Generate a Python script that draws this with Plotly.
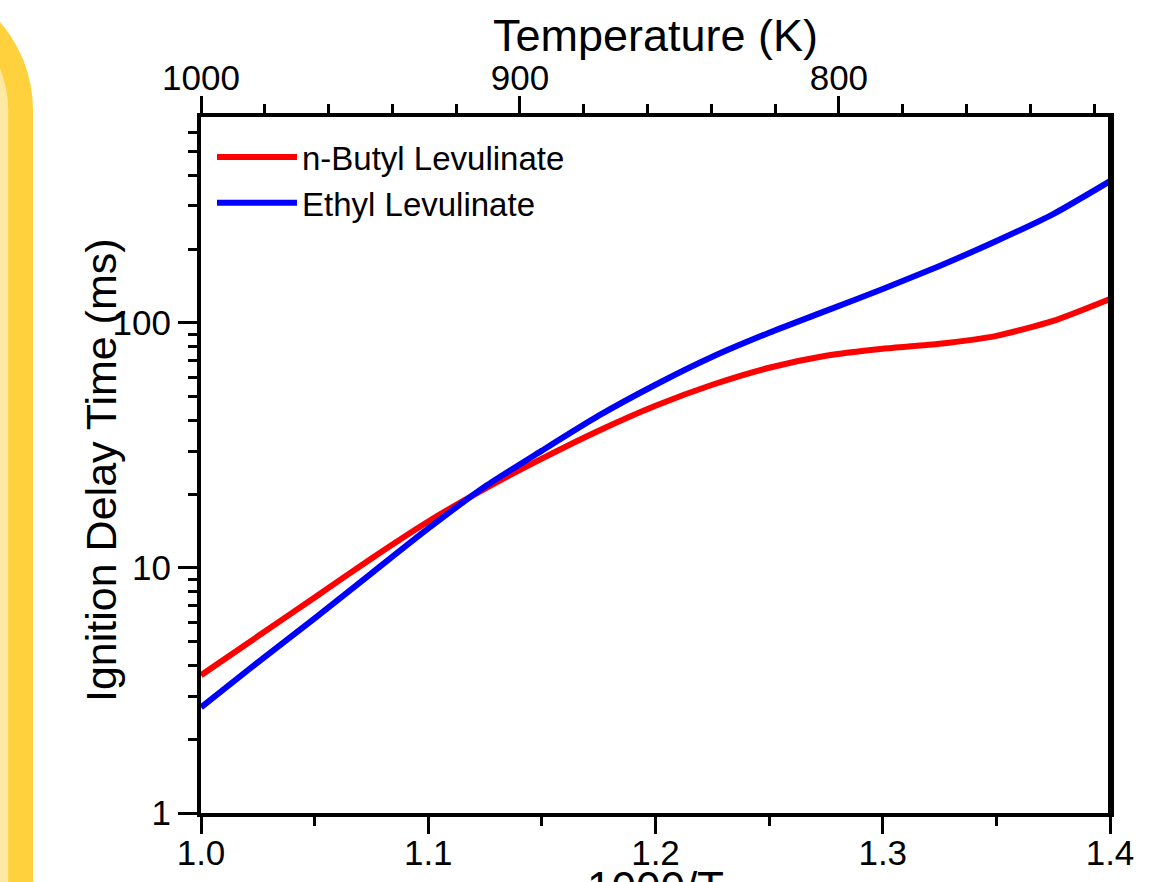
import plotly.graph_objects as go

# 1000/T grid (K^-1)
inv_temp = [1.0, 1.025, 1.05, 1.075, 1.1, 1.125, 1.15, 1.175, 1.2,
            1.225, 1.25, 1.275, 1.3, 1.325, 1.35, 1.375, 1.4]

# Ignition delay times (ms)
butyl_levulinate = [3.65, 5.26, 7.58, 10.93, 15.47, 21.08, 27.93, 36.3, 45.9,
                    55.9, 65.6, 73.4, 78.4, 82.1, 88.5, 101.9, 125.2]
ethyl_levulinate = [2.70, 4.12, 6.23, 9.50, 14.49, 21.48, 30.1, 41.8, 55.9,
                    72.7, 91.1, 111.9, 137.5, 170.7, 215.8, 278.0, 378.7]

series_names = ["n-Butyl Levulinate", "Ethyl Levulinate"]
series_colors = ["#ff0000", "#0000ff"]

temp_ticks = [1000, 900, 800]

W, H = 1163, 882
L, R, T, B = 201, 53, 117, 69
PW, PH = W - L - R, H - T - B
FONT = "Liberation Sans, Arial, sans-serif"


def px(x):
    return (x - L) / PW


def py(y):
    return (H - B - y) / PH


fig = go.Figure()
for name, vals, col in zip(series_names, [butyl_levulinate, ethyl_levulinate], series_colors):
    fig.add_trace(go.Scatter(
        x=inv_temp, y=vals, name=name, mode="lines",
        line=dict(color=col, width=6, shape="spline", smoothing=0.6),
    ))

# invisible trace that carries the temperature axis along the top
fig.add_trace(go.Scatter(x=[1000, 715], y=[1, 1], xaxis="x2", mode="lines",
                         line=dict(width=0), showlegend=False, hoverinfo="skip"))

axis_common = dict(showline=True, linecolor="black", linewidth=4,
                   showgrid=False, zeroline=False, ticks="outside",
                   tickcolor="black", tickwidth=3, automargin=False,
                   tickfont=dict(family=FONT, size=35, color="black"))

fig.update_layout(
    width=W, height=H,
    margin=dict(l=L, r=R, t=T, b=B, autoexpand=False),
    paper_bgcolor="white", plot_bgcolor="white",
    font=dict(family=FONT, color="black"),
    showlegend=True,
    legend=dict(x=px(212), y=py(129), xanchor="left", yanchor="top",
                bgcolor="rgba(0,0,0,0)", font=dict(family=FONT, size=33),
                itemwidth=80, tracegroupgap=0),
    xaxis=dict(range=[1.0, 1.4], tick0=1.0, dtick=0.1, tickformat=".1f",
               ticklen=17, mirror=False, ticklabelstandoff=-11,
               minor=dict(ticks="outside", dtick=0.05, ticklen=9,
                          tickwidth=3, tickcolor="black"),
               **axis_common),
    xaxis2=dict(overlaying="x", side="top", range=[1000, 715],
                tickvals=temp_ticks, ticklen=17, ticklabelstandoff=-8,
                minor=dict(ticks="outside", dtick=20, tick0=1000, ticklen=9,
                           tickwidth=3, tickcolor="black"),
                **axis_common),
    yaxis=dict(type="log", range=[0, 2.84], dtick=1, ticklen=19,
               mirror=True,
               minor=dict(ticks="outside", dtick="D1", ticklen=9,
                          tickwidth=3, tickcolor="black"),
               **axis_common),
)

# right frame edge
fig.add_shape(type="line", xref="paper", yref="paper", x0=1, x1=1, y0=0, y1=1,
              line=dict(color="black", width=4))

fig.add_annotation(text="Temperature (K)", xref="paper", yref="paper",
                   x=0.5, y=py(36), xanchor="center", yanchor="middle",
                   showarrow=False, font=dict(family=FONT, size=45))
fig.add_annotation(text="1000/T", xref="paper", yref="paper",
                   x=0.5, y=py(861), xanchor="center", yanchor="top",
                   showarrow=False, font=dict(family=FONT, size=44))
fig.add_annotation(text="Ignition Delay Time (ms)", xref="paper", yref="paper",
                   x=px(101), y=py(470), xanchor="center", yanchor="middle",
                   textangle=-90, showarrow=False,
                   font=dict(family=FONT, size=43))

# rounded yellow card edge on the left margin
cx, cy = -100.8, 110.0
for rad, col in [(133.8, "#fed13d"), (109.0, "#ffe8a2")]:
    fig.add_shape(type="circle", xref="paper", yref="paper", layer="below",
                  x0=px(cx - rad), x1=px(cx + rad), y0=py(cy + rad), y1=py(cy - rad),
                  fillcolor=col, line=dict(width=0))
    fig.add_shape(type="rect", xref="paper", yref="paper", layer="below",
                  x0=px(-300), x1=px(cx + rad), y0=py(H + 20), y1=py(cy),
                  fillcolor=col, line=dict(width=0))

fig.write_html("out.html")
